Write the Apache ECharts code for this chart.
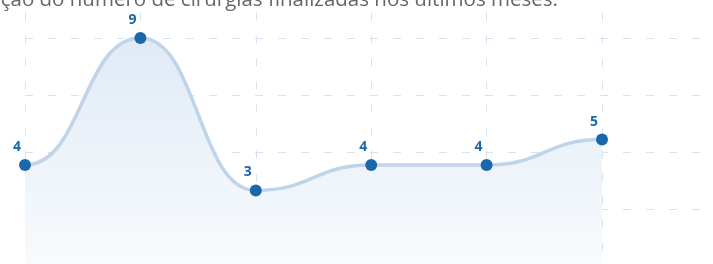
<!DOCTYPE html>
<html>
<head>
<meta charset="utf-8">
<script src="https://cdn.jsdelivr.net/npm/echarts@6/dist/echarts.min.js"></script>
<style>
  html, body { margin: 0; padding: 0; background: #fff; }
  #chart { width: 713px; height: 264px; }
</style>
</head>
<body>
<div id="chart"></div>
<script>
// meses (o último ainda sem dados)
const months = ['Jan', 'Fev', 'Mar', 'Abr', 'Mai', 'Jun', 'Jul'];
const surgeries = [4, 9, 3, 4, 4, 5, '-'];
const titleText = 'Evolução do número de cirurgias finalizadas nos últimos meses.';

const chart = echarts.init(document.getElementById('chart'));

// curva com tangentes horizontais em cada ponto (como no original)
function renderCurve(params, api) {
  if (params.dataIndex !== 0) return null;
  const pts = [];
  surgeries.forEach((v, i) => {
    if (v !== '-') pts.push(api.coord([i, v]));
  });
  const base = api.coord([0, 0])[1];
  let d = 'M' + pts[0][0] + ' ' + pts[0][1];
  for (let i = 1; i < pts.length; i++) {
    const p0 = pts[i - 1], p1 = pts[i];
    const k = (p1[0] - p0[0]) * 0.5;
    d += ' C' + (p0[0] + k) + ' ' + p0[1] + ' ' + (p1[0] - k) + ' ' + p1[1] + ' ' + p1[0] + ' ' + p1[1];
  }
  const last = pts[pts.length - 1];
  const area = d + ' L' + last[0] + ' ' + base + ' L' + pts[0][0] + ' ' + base + ' Z';
  return {
    type: 'group',
    children: [
      {
        type: 'path',
        shape: { pathData: area },
        style: {
          fill: new echarts.graphic.LinearGradient(0, 0, 0, 1, [
            { offset: 0, color: '#e0eaf5' },
            { offset: 1, color: '#f8fbfd' }
          ]),
          stroke: null
        }
      },
      {
        type: 'path',
        shape: { pathData: d },
        style: { fill: null, stroke: '#bfd4e9', lineWidth: 3.5 }
      }
    ]
  };
}

chart.setOption({
  animation: false,
  title: {
    text: titleText,
    left: -56,
    top: -15,
    textStyle: { color: '#666', fontSize: 20.5, fontWeight: 'normal', fontFamily: 'Open Sans' }
  },
  grid: { left: 25, top: 12.6, right: -4.4, bottom: -2.6, outerBoundsMode: 'none' },
  xAxis: {
    type: 'category',
    data: months,
    boundaryGap: false,
    axisLine: { show: false },
    axisTick: { show: false },
    axisLabel: { show: false },
    splitLine: { show: true, lineStyle: { color: '#d5e3f0', type: [8, 15], width: 1 } }
  },
  yAxis: {
    type: 'value',
    min: 0,
    max: 10,
    interval: 2.25,
    axisLine: { show: false },
    axisTick: { show: false },
    axisLabel: { show: false },
    splitLine: { show: true, showMaxLine: false, lineStyle: { color: '#d5e3f0', type: [8, 15], width: 1 } }
  },
  series: [
    {
      type: 'custom',
      renderItem: renderCurve,
      data: surgeries.map((v, i) => [i, v]),
      silent: true
    },
    {
      type: 'scatter',
      data: surgeries,
      symbol: 'circle',
      symbolSize: 12,
      itemStyle: { color: '#1a67ab', opacity: 1 },
      label: {
        show: true,
        position: 'top',
        distance: 5,
        offset: [-8, 0],
        color: '#1a67ab',
        fontSize: 14,
        fontWeight: 'bold',
        fontFamily: 'Open Sans'
      }
    }
  ]
});
</script>
</body>
</html>
